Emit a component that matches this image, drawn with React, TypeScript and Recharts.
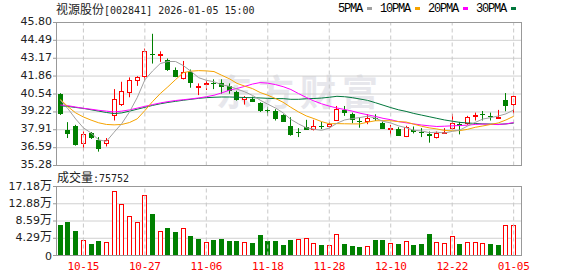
import {
  Bar,
  CartesianGrid,
  ComposedChart,
  Line,
  ReferenceLine,
  XAxis,
  YAxis,
} from "recharts"

const dates = [
  "10-10", "10-13", "10-14", "10-15", "10-16", "10-17", "10-20", "10-21", "10-22", "10-23",
  "10-24", "10-27", "10-28", "10-29", "10-30", "10-31", "11-03", "11-04", "11-05", "11-06",
  "11-07", "11-10", "11-11", "11-12", "11-13", "11-14", "11-17", "11-18", "11-19", "11-20",
  "11-21", "11-24", "11-25", "11-26", "11-27", "11-28", "12-01", "12-02", "12-03", "12-04",
  "12-05", "12-08", "12-09", "12-10", "12-11", "12-12", "12-15", "12-16", "12-17", "12-18",
  "12-19", "12-22", "12-23", "12-24", "12-25", "12-26", "12-29", "12-30", "12-31", "01-05",
]

const openPrices = [
  40.54, 37.9, 38.15, 36.86, 37.66, 37.12, 36.86, 38.93, 39.73, 40.59,
  41.49, 41.8, 43.51, 43.44, 43.07, 42.29, 41.68, 42.17, 40.95, 41.25,
  41.32, 41.36, 41.12, 40.71, 40.1, 40.15, 39.86, 39.37, 39.32, 39.0,
  38.2, 37.72, 38.1, 37.91, 38.15, 38.1, 38.58, 39.37, 39.05, 38.59,
  38.51, 38.81, 38.44, 37.99, 37.95, 37.37, 37.86, 37.78, 37.61, 37.27,
  37.71, 37.96, 38.34, 38.34, 38.95, 39.07, 38.93, 38.73, 40.1, 39.73,
]

const closePrices = [
  39.07, 37.59, 36.81, 37.59, 37.3, 36.49, 37.12, 40.17, 40.76, 41.54,
  41.76, 43.68, 43.41, 43.49, 42.29, 41.8, 42.17, 41.32, 41.12, 41.32,
  41.25, 41.07, 40.78, 40.1, 40.3, 39.95, 39.32, 39.3, 38.69, 38.51,
  37.54, 37.66, 37.91, 38.15, 38.1, 38.34, 39.44, 39.13, 38.64, 38.51,
  38.81, 38.71, 37.98, 38.03, 37.47, 38.1, 37.78, 37.71, 37.42, 37.66,
  37.78, 38.39, 38.2, 38.88, 39.0, 39.03, 38.88, 38.83, 39.66, 40.39,
]

const highPrices = [
  40.6, 38.47, 38.27, 37.78, 37.74, 37.37, 37.3, 40.9, 41.44, 41.76,
  41.85, 43.88, 44.97, 43.68, 43.15, 42.49, 42.97, 42.34, 41.32, 41.56,
  41.62, 41.62, 41.32, 40.78, 40.39, 40.34, 39.93, 39.59, 39.42, 39.05,
  38.83, 38.03, 38.64, 38.64, 38.49, 38.49, 39.66, 39.66, 39.17, 38.79,
  39.05, 39.05, 38.51, 38.27, 38.1, 38.2, 38.15, 38.03, 37.78, 37.78,
  38.03, 39.07, 38.49, 38.93, 39.17, 39.29, 39.17, 39.37, 40.61, 40.42,
]

const lowPrices = [
  39.0, 37.3, 36.74, 36.39, 37.23, 36.3, 36.68, 38.59, 39.66, 40.3,
  41.14, 41.56, 42.78, 42.9, 42.24, 41.78, 41.61, 41.0, 40.46, 40.83,
  40.9, 40.56, 40.56, 40.05, 39.76, 39.95, 39.22, 38.93, 38.59, 38.49,
  37.47, 37.37, 37.91, 37.86, 37.96, 38.01, 38.56, 38.93, 38.39, 38.06,
  38.32, 38.56, 37.98, 37.49, 37.47, 37.37, 37.64, 37.37, 36.96, 37.27,
  37.66, 37.91, 37.57, 38.27, 38.59, 38.59, 38.59, 38.73, 39.27, 39.07,
]

const ma5 = [
  40.1, 39.45, 38.7, 38.05, 37.67, 37.16, 37.06, 37.73, 38.37, 39.22,
  40.27, 41.58, 42.23, 42.78, 42.93, 42.93, 42.63, 42.21, 41.74, 41.55,
  41.44, 41.22, 41.11, 40.9, 40.7, 40.44, 40.09, 39.79, 39.51, 39.15,
  38.67, 38.34, 38.06, 37.95, 37.87, 38.03, 38.39, 38.63, 38.73, 38.81,
  38.91, 38.76, 38.53, 38.41, 38.2, 38.06, 37.87, 37.82, 37.7, 37.73,
  37.67, 37.79, 37.89, 38.18, 38.45, 38.7, 38.8, 38.92, 39.08, 39.36,
]

const ma10 = [
  40.15, 39.6, 39.15, 38.85, 38.62, 38.42, 38.3, 38.27, 38.3, 38.44,
  38.71, 39.32, 39.98, 40.57, 41.07, 41.6, 42.11, 42.22, 42.26, 42.24,
  42.19, 41.92, 41.66, 41.32, 41.12, 40.94, 40.65, 40.45, 40.21, 39.93,
  39.56, 39.22, 38.93, 38.73, 38.51, 38.35, 38.36, 38.35, 38.34, 38.34,
  38.47, 38.57, 38.58, 38.57, 38.51, 38.48, 38.32, 38.17, 38.05, 37.97,
  37.86, 37.83, 37.85, 37.94, 38.09, 38.19, 38.3, 38.41, 38.63, 38.9,
]

const ma20 = [
  39.73, 39.68, 39.58, 39.49, 39.42, 39.34, 39.28, 39.22, 39.28, 39.37,
  39.5, 39.63, 39.76, 39.88, 39.98, 40.06, 40.12, 40.18, 40.25, 40.34,
  40.45, 40.62, 40.82, 40.95, 41.1, 41.27, 41.38, 41.34, 41.23, 41.08,
  40.87, 40.57, 40.29, 40.03, 39.82, 39.65, 39.51, 39.4, 39.28, 39.13,
  39.01, 38.89, 38.75, 38.65, 38.51, 38.42, 38.34, 38.26, 38.2, 38.15,
  38.17, 38.2, 38.22, 38.25, 38.3, 38.33, 38.31, 38.29, 38.34, 38.44,
]

const ma30 = [
  39.68, 39.62, 39.55, 39.48, 39.38, 39.28, 39.18, 39.1, 39.15, 39.28,
  39.42, 39.56, 39.7, 39.82, 39.92, 40.0, 40.08, 40.15, 40.22, 40.27,
  40.3, 40.32, 40.32, 40.3, 40.28, 40.27, 40.25, 40.22, 40.2, 40.2,
  40.15, 40.15, 40.19, 40.21, 40.24, 40.3, 40.37, 40.34, 40.27, 40.17,
  40.07, 39.9, 39.72, 39.54, 39.38, 39.26, 39.11, 38.99, 38.87, 38.75,
  38.63, 38.54, 38.45, 38.41, 38.37, 38.34, 38.33, 38.31, 38.34, 38.4,
]

// 成交量, in 万手
const volumes = [
  7.63, 8.22, 6.22, 3.9, 2.9, 3.49, 3.4, 16.1, 12.86, 9.79,
  8.38, 15.02, 10.21, 6.14, 6.97, 5.73, 6.89, 4.9, 4.15, 3.4,
  3.9, 4.15, 3.49, 3.65, 3.4, 2.99, 5.15, 3.65, 3.65, 2.49,
  3.9, 4.15, 4.4, 3.15, 2.66, 2.66, 5.39, 2.9, 2.41, 2.16,
  2.41, 3.9, 3.9, 3.15, 2.9, 3.65, 2.66, 2.9, 5.39, 3.4,
  3.15, 4.9, 2.9, 3.4, 3.4, 3.15, 2.9, 2.66, 7.63, 7.58,
]

const labelDates = ["10-15", "10-27", "11-06", "11-18", "11-28", "12-10", "12-22", "01-05"]
const priceTicks = [35.28, 36.59, 37.91, 39.22, 40.54, 41.86, 43.17, 44.49, 45.8]
const volumeTicks = [0, 4.29, 8.59, 12.88, 17.18]

const RED = "#ff0000"
const GREEN = "#008000"
const GRID = "#d0d0d0"
const BORDER = "#999999"
const DASH = "#c8c8c8"
const MA_COLORS = { ma5: "#a0a0a0", ma10: "#f5a300", ma20: "#ff00ff", ma30: "#00773c" }

const CJK = "'Noto Sans CJK SC', sans-serif"
const MONO = "'DejaVu Sans Mono', monospace"
const AXIS_FONT = "'DejaVu Sans', sans-serif"

const rows = dates.map((date, i) => ({
  date,
  open: openPrices[i],
  close: closePrices[i],
  high: highPrices[i],
  low: lowPrices[i],
  ma5: ma5[i],
  ma10: ma10[i],
  ma20: ma20[i],
  ma30: ma30[i],
  vol: volumes[i],
  volUp: i > 0 && closePrices[i] >= closePrices[i - 1],
}))

function Candle(props: any) {
  const { x, y, width, height, payload } = props
  const { open, close, high, low } = payload
  const k = high > low ? height / (high - low) : 0
  const py = (v: number) => y + (high - v) * k
  const col = Math.floor(x + width / 2)
  const cx = col + 0.5
  const up = close > open
  const color = up ? RED : GREEN
  const top = Math.round(py(Math.max(open, close)))
  let bottom = Math.round(py(Math.min(open, close)))

  if (up) {
    if (bottom - top < 2) bottom = top + 2
    return (
      <g>
        <line x1={cx} x2={cx} y1={y} y2={top} stroke={color} />
        <line x1={cx} x2={cx} y1={bottom} y2={y + height} stroke={color} />
        <rect x={col - 1.5} y={top + 0.5} width={4} height={bottom - top - 1} fill="#fff" stroke={color} />
      </g>
    )
  }
  if (bottom - top < 1) bottom = top + 1
  return (
    <g>
      <line x1={cx} x2={cx} y1={y} y2={y + height} stroke={color} />
      <rect x={col - 2} y={top} width={5} height={bottom - top} fill={color} />
    </g>
  )
}

function VolumeBar(props: any) {
  const { x, y, width, height, payload } = props
  const col = Math.floor(x + width / 2)
  const top = Math.round(y)
  const bottom = Math.round(y + height)
  if (payload.volUp) {
    return (
      <rect x={col - 1.5} y={top + 0.5} width={4} height={Math.max(bottom - top - 1, 1)} fill="#fff" stroke={RED} />
    )
  }
  return <rect x={col - 2} y={top} width={5} height={bottom - top} fill={GREEN} />
}

function PriceTick({ x, y, payload }: any) {
  return (
    <text x={x} y={y} dy={2.5} textAnchor="end" fill="#222" fontSize={11} fontFamily={AXIS_FONT}>
      {Number(payload.value).toFixed(2)}
    </text>
  )
}

function VolumeTick({ x, y, payload }: any) {
  const v = Number(payload.value)
  return (
    <text x={x} y={y} dy={v === 0 ? 4 : 3} textAnchor="end" fill="#222" fontSize={11} fontFamily={AXIS_FONT}>
      {v === 0 ? (
        "0"
      ) : (
        <>
          <tspan>{v.toFixed(2)}</tspan>
          <tspan fontFamily={CJK} fontSize={12}>万</tspan>
        </>
      )}
    </text>
  )
}

function DateTick({ x, y, payload }: any) {
  if (!labelDates.includes(payload.value)) return <g />
  return (
    <text x={x} y={y} dy={14} textAnchor="middle" fill={RED} fontSize={11} fontFamily={MONO} letterSpacing={-0.3}>
      {payload.value}
    </text>
  )
}

const legendItems = [
  { label: "5PMA", color: MA_COLORS.ma5 },
  { label: "10PMA", color: MA_COLORS.ma10 },
  { label: "20PMA", color: MA_COLORS.ma20 },
  { label: "30PMA", color: MA_COLORS.ma30 },
]

export default function App() {
  return (
    <div
      style={{
        position: "absolute",
        left: 0,
        top: 0,
        width: 578,
        height: 276,
        background: "#fff",
        overflow: "hidden",
      }}
    >
      {/* watermark */}
      <div
        style={{
          position: "absolute",
          left: 216,
          top: 72,
          fontFamily: CJK,
          fontSize: 36,
          lineHeight: "36px",
          fontWeight: 700,
          letterSpacing: 6,
          color: "#e7e7ec",
          whiteSpace: "nowrap",
        }}
      >
        东方财富
      </div>

      {/* header */}
      <div
        style={{
          position: "absolute",
          left: 56,
          top: 1,
          lineHeight: "15px",
          color: "#222",
          whiteSpace: "nowrap",
        }}
      >
        <span style={{ fontFamily: CJK, fontSize: 12 }}>视源股份</span>
        <span style={{ fontFamily: MONO, fontSize: 10 }}>[002841] 2026-01-05 15:00</span>
      </div>

      <div
        style={{
          position: "absolute",
          left: 338,
          top: 1,
          display: "flex",
          alignItems: "center",
          height: 15,
          whiteSpace: "nowrap",
        }}
      >
        {legendItems.map((item) => (
          <div key={item.label} style={{ display: "flex", alignItems: "center", marginRight: 8 }}>
            <span style={{ fontFamily: "'Liberation Mono', monospace", fontSize: 12, letterSpacing: -1.2, color: "#000" }}>
              {item.label}
            </span>
            <span style={{ display: "inline-block", width: 5, height: 3, marginLeft: 5, background: item.color }} />
          </div>
        ))}
      </div>

      {/* price chart */}
      <div style={{ position: "absolute", left: 0, top: 0 }}>
        <ComposedChart width={578} height={170} data={rows} margin={{ top: 22.5, right: 56, bottom: 4.5, left: 0 }}>
          <CartesianGrid vertical={false} stroke={GRID} />
          <XAxis dataKey="date" hide padding={{ left: 0.5, right: 4.5 }} />
          <YAxis
            domain={[35.28, 45.8]}
            ticks={priceTicks}
            interval={0}
            allowDataOverflow
            width={56}
            axisLine={false}
            tickLine={{ stroke: BORDER }}
            tickSize={3}
            tickMargin={1}
            tick={<PriceTick />}
          />
          {labelDates.map((d) => (
            <ReferenceLine key={d} x={d} stroke={DASH} strokeDasharray="4 3" />
          ))}
          <Bar
            dataKey={(d: any) => [d.low, d.high]}
            shape={<Candle />}
            isAnimationActive={false}
          />
          <Line type="linear" dataKey="ma30" stroke={MA_COLORS.ma30} dot={false} activeDot={false} isAnimationActive={false} />
          <Line type="linear" dataKey="ma20" stroke={MA_COLORS.ma20} dot={false} activeDot={false} isAnimationActive={false} />
          <Line type="linear" dataKey="ma10" stroke={MA_COLORS.ma10} dot={false} activeDot={false} isAnimationActive={false} />
          <Line type="linear" dataKey="ma5" stroke={MA_COLORS.ma5} dot={false} activeDot={false} isAnimationActive={false} />
        </ComposedChart>
      </div>
      <div
        style={{
          position: "absolute",
          left: 56,
          top: 22,
          width: 466,
          height: 144,
          border: `1px solid ${BORDER}`,
          boxSizing: "border-box",
          pointerEvents: "none",
        }}
      />

      {/* volume label */}
      <div
        style={{
          position: "absolute",
          left: 57,
          top: 169,
          lineHeight: "15px",
          color: "#222",
          whiteSpace: "nowrap",
        }}
      >
        <span style={{ fontFamily: CJK, fontSize: 12 }}>成交量</span>
        <span style={{ fontFamily: MONO, fontSize: 10 }}>:75752</span>
      </div>

      {/* volume chart */}
      <div style={{ position: "absolute", left: 0, top: 174 }}>
        <ComposedChart width={578} height={102} data={rows} margin={{ top: 12.5, right: 56, bottom: 0, left: 0 }}>
          <CartesianGrid vertical={false} stroke={GRID} />
          <XAxis
            dataKey="date"
            padding={{ left: 0.5, right: 4.5 }}
            interval={0}
            height={20.5}
            axisLine={false}
            tickLine={false}
            tickSize={0}
            tickMargin={0}
            tick={<DateTick />}
          />
          <YAxis
            domain={[0, 17.18]}
            ticks={volumeTicks}
            interval={0}
            allowDataOverflow
            width={56}
            axisLine={false}
            tickLine={{ stroke: BORDER }}
            tickSize={3}
            tickMargin={1}
            tick={<VolumeTick />}
          />
          {labelDates.map((d) => (
            <ReferenceLine key={d} x={d} stroke={DASH} strokeDasharray="4 3" />
          ))}
          <Bar dataKey="vol" shape={<VolumeBar />} isAnimationActive={false} />
        </ComposedChart>
      </div>
      <div
        style={{
          position: "absolute",
          left: 56,
          top: 186,
          width: 466,
          height: 70,
          border: `1px solid ${BORDER}`,
          boxSizing: "border-box",
          pointerEvents: "none",
        }}
      />
    </div>
  )
}
